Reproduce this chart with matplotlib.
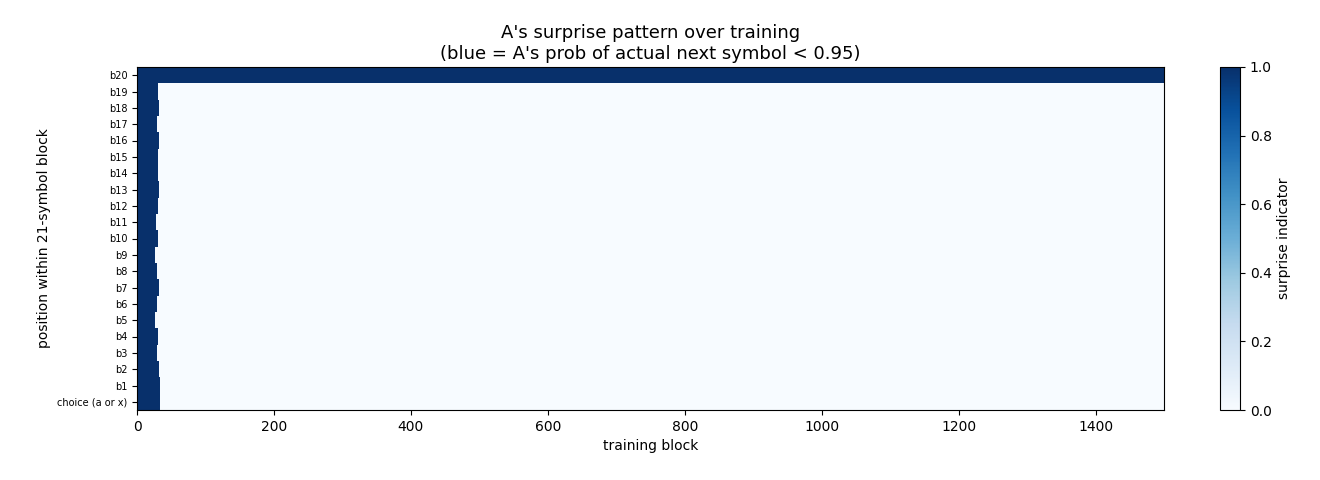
import numpy as np
import matplotlib
matplotlib.use("Agg")
import matplotlib.pyplot as plt

row_labels = ["choice (a or x)"] + [f"b{i}" for i in range(1, 21)]
# first training block at which each row stops being surprising (b20 never stops)
cutoffs = [33, 33, 32, 29, 30, 27, 29, 32, 29, 27, 30, 28, 30, 32, 30, 30, 32, 29, 32, 30, 1500]
n_blocks = 1500

data = np.zeros((len(row_labels), n_blocks))
for i, c in enumerate(cutoffs):
    data[i, :c] = 1.0

fig = plt.figure(figsize=(13.2, 4.8), dpi=100)
ax = fig.add_axes([137/1320, 70/480, 1027/1320, 343/480])
cax = fig.add_axes([1220/1320, 70/480, 20/1320, 343/480])
im = ax.imshow(data, aspect="auto", cmap="Blues", vmin=0, vmax=1, origin="lower",
               interpolation="nearest", extent=[0, n_blocks, -0.5, len(row_labels) - 0.5])
ax.set_yticks(range(len(row_labels)))
ax.set_yticklabels(row_labels, fontsize=7)
ax.set_xlabel("training block")
ax.set_ylabel("position within 21-symbol block")
ax.set_title("A's surprise pattern over training\n(blue = A's prob of actual next symbol < 0.95)", fontsize=13)
cb = fig.colorbar(im, cax=cax)
cb.set_label("surprise indicator")
fig.savefig("out.png", dpi=100)
